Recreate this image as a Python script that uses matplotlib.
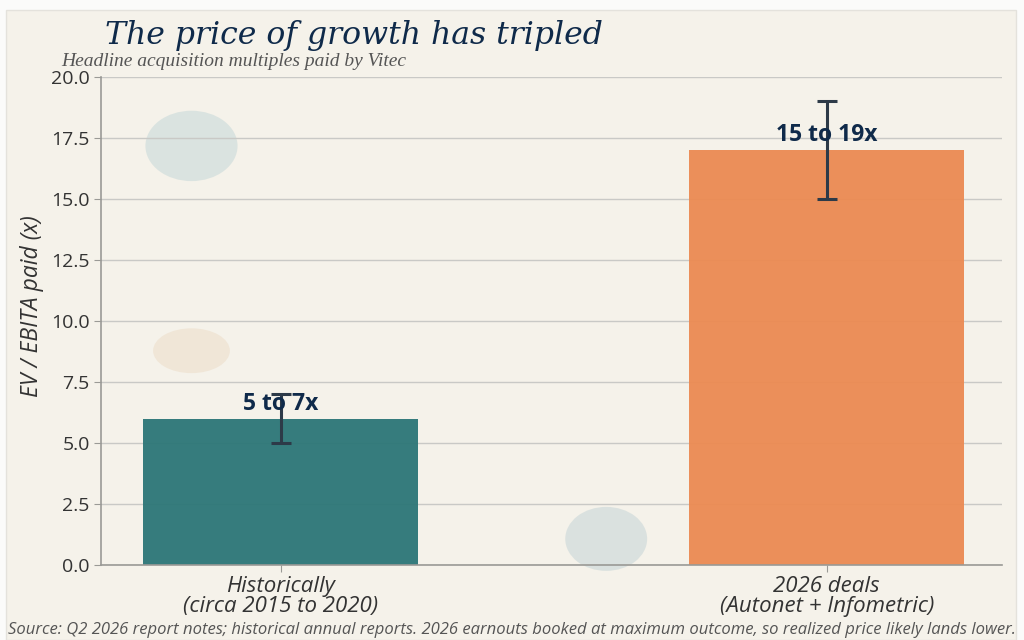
import matplotlib
matplotlib.use('Agg')
import matplotlib.pyplot as plt
from matplotlib.patches import Ellipse, Rectangle

# data
categories = ['Historically\n(circa 2015 to 2020)', '2026 deals\n(Autonet + Infometric)']
midpoints = [6.0, 17.0]
low = [5.0, 15.0]
high = [7.0, 19.0]
range_labels = ['5 to 7x', '15 to 19x']
bar_colors = ['#2c7677', '#eb8a52']
yticks = [0.0, 2.5, 5.0, 7.5, 10.0, 12.5, 15.0, 17.5, 20.0]

paper = '#f5f2ea'
navy = '#0f2a4a'
grey = '#555555'

plt.rcParams['font.family'] = ['Open Sans', 'DejaVu Sans']

fig = plt.figure(figsize=(10.24, 6.4), dpi=100)
fig.patch.set_facecolor('#fbfbfa')
# paper sheet with a thin light border around it
fig.patches.append(Rectangle((0.006, 0.0), 0.986, 0.984, transform=fig.transFigure,
                             facecolor=paper, edgecolor='#e4e2dc', linewidth=1.0, zorder=0))

# faint watercolour blobs in the background
for (x, y, w, h, c) in [(0.187, 0.772, 0.09, 0.11, '#d8e2df'),
                        (0.187, 0.452, 0.075, 0.07, '#f0e5d5'),
                        (0.592, 0.158, 0.08, 0.1, '#d8e0de')]:
    fig.patches.append(Ellipse((x, y), w, h, transform=fig.transFigure,
                               facecolor=c, edgecolor='none', alpha=0.9, zorder=0.5))

ax = fig.add_axes([0.0986, 0.117, 0.880, 0.763])
ax.set_facecolor('none')
ax.set_zorder(2)

x = range(len(categories))
ax.bar(x, midpoints, width=0.504, color=bar_colors, alpha=0.95, zorder=2)

yerr = [[m - l for m, l in zip(midpoints, low)], [h - m for m, h in zip(midpoints, high)]]
ax.errorbar(x, midpoints, yerr=yerr, fmt='none', ecolor='#2d3a48',
            elinewidth=2.2, capsize=7.5, capthick=2.2, zorder=4)

for i, (m, lab) in enumerate(zip(midpoints, range_labels)):
    ax.text(i, m + 0.6, lab, ha='center', va='center', fontsize=16.5,
            fontweight='bold', color=navy, zorder=5)

ax.set_xticks(list(x))
ax.set_xticklabels(categories, fontsize=16, style='italic', color='#222222',
                   linespacing=0.95)
ax.set_yticks(yticks)
ax.set_yticklabels([f'{t:.1f}' for t in yticks], fontsize=14, color='#333333')
ax.set_ylim(0, 20)
ax.set_xlim(-0.329, 1.321)
ax.set_ylabel('EV / EBITA paid (x)', fontsize=16.5, style='italic', color='#333333')
ax.yaxis.set_label_coords(-0.063, 0.53)

ax.grid(axis='y', color='#c9c9c6', linewidth=1.0, zorder=0)
ax.set_axisbelow(True)
for s in ['top', 'right']:
    ax.spines[s].set_visible(False)
for s in ['left', 'bottom']:
    ax.spines[s].set_color('#9a9a96')
    ax.spines[s].set_linewidth(1.2)
ax.tick_params(colors='#9a9a96', labelcolor='#333333', length=5, pad=3)

fig.text(0.103, 0.931, 'The price of growth has tripled', fontsize=22.7,
         family='DejaVu Serif', style='italic', color=navy)
fig.text(0.06, 0.897, 'Headline acquisition multiples paid by Vitec', fontsize=14,
         family='Liberation Serif', style='italic', color='#555555')
fig.text(0.008, 0.01, 'Source: Q2 2026 report notes; historical annual reports. '
         '2026 earnouts booked at maximum outcome, so realized price likely lands lower.',
         fontsize=12, style='italic', color=grey)

fig.savefig('out.png', dpi=100, facecolor=fig.get_facecolor())
